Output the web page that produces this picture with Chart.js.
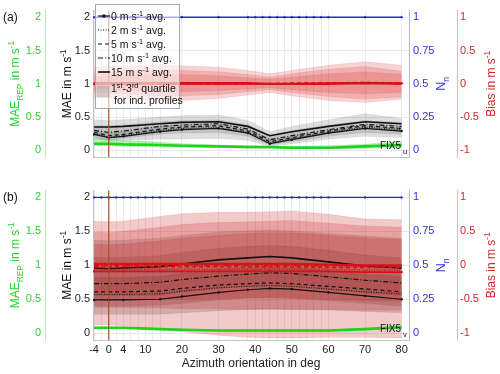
<!DOCTYPE html>
<html>
<head>
<meta charset="utf-8">
<script src="https://cdn.jsdelivr.net/npm/chart.js@4.4.1/dist/chart.umd.min.js"></script>
<style>
  html, body { margin: 0; padding: 0; background: #fff; }
  #wrap { position: relative; width: 500px; height: 374px; }
  #wrap canvas { position: absolute; left: 0; }
</style>
</head>
<body>
<div id="wrap">
  <canvas id="chartA" width="500" height="180" style="top:0"></canvas>
  <canvas id="chartB" width="500" height="194" style="top:180px"></canvas>
</div>
<script>
// azimuth positions of the profiles (grid lines / N_n markers)
const GRID_AZ   = [-4, -2, 0, 2, 4, 6, 8, 10, 12, 14, 20, 30, 38, 40, 42, 44, 46, 48, 50, 52, 54, 56, 58, 60, 70, 80];
const NN_VALUES = [1, 1, 1, 1, 1, 1, 1, 1, 1, 1, 1, 1, 1, 1, 1, 1, 1, 1, 1, 1, 1, 1, 1, 1, 1, 1];
const AZ        = [-4, 0, 4, 14, 20, 30, 38, 44, 50, 60, 70, 80];
const X_LABELS  = [-4, 0, 4, 10, 20, 30, 40, 50, 60, 70, 80];
const ZERO_AZ   = 0;

const MAE_TICKS  = [0, 0.5, 1, 1.5, 2];
const NN_TICKS   = [0, 0.25, 0.5, 0.75, 1];
const BIAS_TICKS = [-1, -0.5, 0, 0.5, 1];

// ---- panel (a): u component ----
const A_MAE_0  = [0.24, 0.19, 0.21, 0.28, 0.31, 0.33, 0.26, 0.10, 0.16, 0.26, 0.33, 0.29];
const A_MAE_2  = [0.25, 0.20, 0.22, 0.30, 0.33, 0.34, 0.27, 0.11, 0.17, 0.27, 0.35, 0.31];
const A_MAE_5  = [0.27, 0.22, 0.24, 0.32, 0.35, 0.37, 0.29, 0.13, 0.19, 0.29, 0.37, 0.33];
const A_MAE_10 = [0.30, 0.27, 0.29, 0.36, 0.38, 0.40, 0.32, 0.16, 0.22, 0.31, 0.39, 0.36];
const A_MAE_15 = [0.35, 0.35, 0.36, 0.40, 0.42, 0.43, 0.36, 0.22, 0.28, 0.36, 0.43, 0.40];

const A_GRAY1_HI = [0.46, 0.45, 0.46, 0.50, 0.52, 0.53, 0.45, 0.28, 0.36, 0.46, 0.55, 0.48];
const A_GRAY1_LO = [0.25, 0.22, 0.24, 0.30, 0.32, 0.33, 0.26, 0.12, 0.17, 0.26, 0.33, 0.29];
const A_GRAY2_HI = [0.37, 0.37, 0.38, 0.43, 0.45, 0.46, 0.38, 0.23, 0.30, 0.38, 0.45, 0.42];
const A_GRAY2_LO = [0.20, 0.16, 0.18, 0.24, 0.26, 0.27, 0.21, 0.08, 0.13, 0.21, 0.27, 0.24];
const A_GRAY3_HI = [0.30, 0.26, 0.28, 0.35, 0.37, 0.39, 0.31, 0.15, 0.21, 0.30, 0.37, 0.34];
const A_GRAY3_LO = [0.18, 0.14, 0.15, 0.17, 0.17, 0.18, 0.15, 0.06, 0.10, 0.17, 0.21, 0.19];

const A_BIAS_0  = [0.00, 0.00, 0.00, 0.00, 0.00, 0.00, 0.00, 0.00, 0.00, 0.01, 0.01, 0.01];
const A_BIAS_5  = [-0.01, -0.01, -0.01, 0.00, 0.00, 0.00, 0.00, 0.00, 0.01, 0.01, 0.02, 0.01];
const A_BIAS_15 = [0.01, 0.01, 0.01, 0.01, 0.01, 0.01, 0.01, 0.00, 0.00, 0.00, 0.01, 0.00];

const A_RED1_HI = [0.24, 0.26, 0.27, 0.28, 0.27, 0.25, 0.20, 0.15, 0.20, 0.28, 0.33, 0.28];
const A_RED1_LO = [-0.20, -0.21, -0.22, -0.24, -0.25, -0.22, -0.17, -0.13, -0.18, -0.25, -0.28, -0.23];
const A_RED2_HI = [0.16, 0.18, 0.19, 0.21, 0.20, 0.18, 0.14, 0.10, 0.15, 0.22, 0.26, 0.19];
const A_RED2_LO = [-0.12, -0.14, -0.15, -0.18, -0.18, -0.16, -0.12, -0.09, -0.13, -0.19, -0.23, -0.20];
const A_RED3_HI = [0.10, 0.11, 0.12, 0.14, 0.14, 0.12, 0.09, 0.07, 0.10, 0.15, 0.18, 0.14];
const A_RED3_LO = [-0.08, -0.09, -0.10, -0.12, -0.12, -0.10, -0.08, -0.06, -0.09, -0.13, -0.15, -0.13];

const A_REP    = [0.10, 0.10, 0.09, 0.08, 0.07, 0.06, 0.05, 0.05, 0.04, 0.04, 0.06, 0.08];
const A_REP_HI = [0.18, 0.17, 0.15, 0.12, 0.10, 0.08, 0.07, 0.06, 0.06, 0.07, 0.09, 0.13];
const A_REP_LO = [0.07, 0.07, 0.06, 0.05, 0.05, 0.04, 0.03, 0.03, 0.02, 0.02, 0.03, 0.05];

// ---- panel (b): v component ----
const B_MAE_0  = [0.49, 0.49, 0.49, 0.50, 0.54, 0.60, 0.64, 0.66, 0.65, 0.60, 0.55, 0.50];
const B_MAE_2  = [0.57, 0.57, 0.57, 0.58, 0.62, 0.67, 0.69, 0.70, 0.69, 0.65, 0.61, 0.58];
const B_MAE_5  = [0.61, 0.61, 0.61, 0.62, 0.66, 0.71, 0.73, 0.74, 0.73, 0.69, 0.65, 0.61];
const B_MAE_10 = [0.73, 0.73, 0.73, 0.75, 0.79, 0.84, 0.87, 0.89, 0.88, 0.83, 0.78, 0.74];
const B_MAE_15 = [0.96, 0.95, 0.96, 0.98, 1.02, 1.08, 1.11, 1.13, 1.11, 1.05, 0.99, 0.96];

const B_GRAY1_HI = [1.37, 1.36, 1.37, 1.40, 1.44, 1.49, 1.51, 1.52, 1.51, 1.47, 1.43, 1.40];
const B_GRAY1_LO = [0.55, 0.55, 0.55, 0.56, 0.60, 0.66, 0.69, 0.70, 0.69, 0.64, 0.59, 0.55];
const B_GRAY2_HI = [1.12, 1.11, 1.12, 1.14, 1.19, 1.25, 1.28, 1.29, 1.28, 1.22, 1.15, 1.11];
const B_GRAY2_LO = [0.40, 0.40, 0.40, 0.41, 0.44, 0.49, 0.52, 0.53, 0.52, 0.48, 0.44, 0.40];
const B_GRAY3_HI = [0.82, 0.82, 0.82, 0.84, 0.88, 0.94, 0.97, 0.98, 0.97, 0.92, 0.87, 0.83];
const B_GRAY3_LO = [0.28, 0.28, 0.28, 0.28, 0.30, 0.33, 0.35, 0.36, 0.35, 0.34, 0.32, 0.30];

const B_BIAS_0  = [-0.09, -0.09, -0.09, -0.09, -0.09, -0.09, -0.09, -0.09, -0.09, -0.09, -0.10, -0.10];
const B_BIAS_2  = [-0.06, -0.06, -0.06, -0.06, -0.06, -0.06, -0.06, -0.06, -0.06, -0.06, -0.07, -0.07];
const B_BIAS_5  = [-0.02, -0.02, -0.02, -0.02, -0.02, -0.02, -0.02, -0.02, -0.02, -0.03, -0.03, -0.03];
const B_BIAS_10 = [0.00, 0.00, 0.00, 0.00, 0.00, 0.00, 0.00, 0.00, 0.00, 0.00, -0.01, -0.01];
const B_BIAS_15 = [0.02, 0.02, 0.02, 0.02, 0.02, 0.02, 0.02, 0.02, 0.02, 0.01, 0.00, 0.00];

const B_RED1_HI = [0.65, 0.64, 0.65, 0.72, 0.76, 0.78, 0.78, 0.79, 0.80, 0.75, 0.68, 0.67];
const B_RED1_LO = [-0.88, -0.88, -0.89, -0.94, -0.98, -1.03, -1.06, -1.07, -1.07, -1.06, -1.06, -1.07];
const B_RED2_HI = [0.49, 0.48, 0.50, 0.56, 0.60, 0.63, 0.64, 0.65, 0.66, 0.62, 0.58, 0.56];
const B_RED2_LO = [-0.62, -0.62, -0.62, -0.63, -0.64, -0.64, -0.65, -0.65, -0.65, -0.65, -0.66, -0.66];
const B_RED3_HI = [0.31, 0.30, 0.31, 0.36, 0.40, 0.44, 0.47, 0.48, 0.48, 0.44, 0.40, 0.38];
const B_RED3_LO = [-0.50, -0.50, -0.50, -0.50, -0.50, -0.49, -0.48, -0.48, -0.49, -0.50, -0.52, -0.53];

const B_REP    = [0.08, 0.08, 0.08, 0.06, 0.05, 0.04, 0.04, 0.04, 0.04, 0.04, 0.06, 0.09];
const B_REP_HI = [0.09, 0.09, 0.09, 0.07, 0.06, 0.05, 0.05, 0.05, 0.05, 0.05, 0.07, 0.10];
const B_REP_LO = [0.07, 0.07, 0.07, 0.05, 0.04, 0.03, 0.03, 0.03, 0.03, 0.03, 0.05, 0.08];

const FONT  = "'Liberation Sans', Arial, Helvetica, sans-serif";
const GREEN = '#2ed22e';
const BLUE  = '#3333cc';
const RED   = '#cc2a2a';

// line styles per wind speed
const STYLES = {
  s0:  { dash: [],           width: 1.2, dots: true },
  s2:  { dash: [1, 1.5],     width: 1.1, dots: false },
  s5:  { dash: [4, 3],       width: 1.2, dots: false },
  s10: { dash: [5, 2, 1, 2], width: 1.2, dots: false },
  s15: { dash: [],           width: 1.6, dots: false }
};

Chart.defaults.font.family = FONT;
Chart.defaults.font.size = 11;
Chart.defaults.color = '#222';

function pts(xs, ys) {
  return xs.map((x, i) => ({ x, y: ys[i] }));
}

function band(list, lo, hi, color, axis, order) {
  list.push({ data: pts(AZ, hi), yAxisID: axis, fill: '+1', backgroundColor: color,
              borderColor: color, borderWidth: 0.5, pointRadius: 0, order });
  list.push({ data: pts(AZ, lo), yAxisID: axis, fill: false,
              borderColor: color, borderWidth: 0.5, pointRadius: 0, order });
}

function curve(list, ys, color, style, axis, order, extraWidth = 0) {
  const st = STYLES[style];
  list.push({ data: pts(AZ, ys), yAxisID: axis, fill: false, borderColor: color,
              borderWidth: st.width + extraWidth, borderDash: st.dash,
              pointRadius: st.dots ? 1.2 : 0, pointBackgroundColor: color,
              pointBorderWidth: 0, order });
}

function fixedTicks(values) {
  return s => { s.ticks = values.map(v => ({ value: v })); };
}

function scalesFor(showX) {
  const fmt = v => String(v);
  return {
    x: {
      type: 'linear', min: -4.3, max: 82,
      afterBuildTicks: fixedTicks(GRID_AZ),
      afterFit: s => { s.height = showX ? 34 : 23; },
      grid: { color: '#ececec', drawTicks: false },
      border: { color: '#c4c4c4' },
      ticks: { display: showX, autoSkip: false, maxRotation: 0, padding: 3, color: '#222',
               callback: v => X_LABELS.includes(v) ? String(v) : '' },
      title: { display: showX, text: 'Azimuth orientation in deg', color: '#222',
               font: { size: 12 }, padding: { top: 0, bottom: 3 } }
    },
    y: {
      position: 'left', min: -0.1, max: 2.1,
      afterBuildTicks: fixedTicks(MAE_TICKS),
      afterFit: s => { s.width = 48; },
      grid: { color: '#e8e8e8', drawTicks: false },
      border: { color: '#c4c4c4' },
      ticks: { padding: 3, color: '#222', callback: fmt }
    },
    yR: {
      position: 'left', min: -0.1, max: 2.1,
      afterBuildTicks: fixedTicks(MAE_TICKS),
      afterFit: s => { s.width = 45; },
      grid: { display: false, drawTicks: false },
      border: { color: '#b4ecb4' },
      ticks: { padding: 4, color: GREEN, callback: fmt }
    },
    yN: {
      position: 'right', min: -0.05, max: 1.05,
      afterBuildTicks: fixedTicks(NN_TICKS),
      afterFit: s => { s.width = 48; },
      grid: { display: false, drawTicks: false },
      border: { color: '#b4b4ee' },
      ticks: { padding: 4, color: BLUE, callback: fmt }
    },
    yB: {
      position: 'right', min: -1.1, max: 1.1,
      afterBuildTicks: fixedTicks(BIAS_TICKS),
      afterFit: s => { s.width = 43; },
      grid: { display: false, drawTicks: false },
      border: { color: '#eeb4b4' },
      ticks: { padding: 3, color: RED, callback: fmt }
    }
  };
}

function richWidth(ctx, parts, size) {
  let w = 0;
  parts.forEach(([t, m]) => {
    ctx.font = (m ? size * 0.7 : size) + 'px ' + FONT;
    w += ctx.measureText(t).width;
  });
  return w;
}

function drawRich(ctx, parts, x, y, size) {
  parts.forEach(([t, m]) => {
    ctx.font = (m ? size * 0.7 : size) + 'px ' + FONT;
    const dy = m === 1 ? -size * 0.4 : m === -1 ? size * 0.28 : 0;
    ctx.fillText(t, x, y + dy);
    x += ctx.measureText(t).width;
  });
}

function drawVertical(ctx, parts, cx, cy, size, color) {
  ctx.save();
  ctx.translate(cx, cy);
  ctx.rotate(-Math.PI / 2);
  ctx.fillStyle = color;
  ctx.textAlign = 'left';
  ctx.textBaseline = 'alphabetic';
  const w = richWidth(ctx, parts, size);
  drawRich(ctx, parts, -w / 2, size * 0.35, size);
  ctx.restore();
}

const LEGEND_ROWS = [
  { style: 's0',  parts: [['0 m s', 0], ['-1', 1], [' avg.', 0]] },
  { style: 's2',  parts: [['2 m s', 0], ['-1', 1], [' avg.', 0]] },
  { style: 's5',  parts: [['5 m s', 0], ['-1', 1], [' avg.', 0]] },
  { style: 's10', parts: [['10 m s', 0], ['-1', 1], [' avg.', 0]] },
  { style: 's15', parts: [['15 m s', 0], ['-1', 1], [' avg.', 0]] }
];

function drawLegend(ctx) {
  const left = 95, top = 4, right = 179, bottom = 108;
  ctx.save();
  ctx.fillStyle = 'rgba(255,255,255,0.6)';
  ctx.fillRect(left, top, right - left, bottom - top);
  ctx.strokeStyle = '#a8a8a8';
  ctx.lineWidth = 1;
  ctx.strokeRect(left + 0.5, top + 0.5, right - left, bottom - top);

  ctx.fillStyle = '#111';
  ctx.textAlign = 'left';
  ctx.textBaseline = 'alphabetic';
  LEGEND_ROWS.forEach((row, i) => {
    const y = 16 + i * 14;
    const st = STYLES[row.style];
    ctx.strokeStyle = '#111';
    ctx.lineWidth = st.width;
    ctx.setLineDash(st.dash);
    ctx.beginPath();
    ctx.moveTo(98, y);
    ctx.lineTo(110, y);
    ctx.stroke();
    ctx.setLineDash([]);
    if (st.dots) {
      ctx.fillStyle = '#111';
      ctx.fillRect(102.5, y - 1.5, 3, 3);
    }
    ctx.fillStyle = '#111';
    drawRich(ctx, row.parts, 111, y + 4, 10.5);
  });

  // quartile patch
  ctx.fillStyle = 'rgba(0,0,0,0.15)';
  ctx.fillRect(97, 86, 12, 11);
  ctx.strokeStyle = '#bbbbbb';
  ctx.lineWidth = 0.6;
  ctx.strokeRect(97, 86, 12, 11);
  ctx.fillStyle = '#111';
  drawRich(ctx, [['1', 0], ['st', 1], ['-3', 0], ['rd', 1], [' quartile', 0]], 111, 92, 10.5);
  drawRich(ctx, [['for ind. profiles', 0]], 114, 104, 10.5);
  ctx.restore();
}

const decor = {
  id: 'decor',
  afterDatasetsDraw(chart, args, opts) {
    const { ctx, chartArea: ca, scales } = chart;
    const x0 = scales.x.getPixelForValue(ZERO_AZ);
    ctx.save();
    ctx.strokeStyle = '#a0522d';
    ctx.lineWidth = 1.2;
    ctx.beginPath();
    ctx.moveTo(x0, ca.top);
    ctx.lineTo(x0, ca.bottom);
    ctx.stroke();

    ctx.fillStyle = '#111';
    ctx.textBaseline = 'alphabetic';
    ctx.textAlign = 'right';
    ctx.font = '10px ' + FONT;
    ctx.fillText('FIX5', ca.right - 8, ca.bottom - 8);
    ctx.textAlign = 'left';
    ctx.font = '7.5px ' + FONT;
    ctx.fillText(opts.sub, ca.right - 6, ca.bottom - 3);
    ctx.restore();
  },
  afterDraw(chart, args, opts) {
    const { ctx, chartArea: ca, scales } = chart;
    const cy = (ca.top + ca.bottom) / 2;
    drawVertical(ctx, [['MAE', 0], ['REP', -1], [' in m s', 0], ['-1', 1]], scales.yR.left + 15, cy, 12, GREEN);
    drawVertical(ctx, [['MAE in m s', 0], ['-1', 1]], scales.y.left + 22, cy, 12, '#111');
    drawVertical(ctx, [['N', 0], ['n', -1]], scales.yN.left + 32, cy, 12.5, BLUE);
    drawVertical(ctx, [['Bias in m s', 0], ['-1', 1]], scales.yB.left + 34, cy, 12, RED);

    ctx.save();
    ctx.fillStyle = '#111';
    ctx.textAlign = 'left';
    ctx.textBaseline = 'alphabetic';
    ctx.font = '12px ' + FONT;
    ctx.fillText(opts.letter, 3, ca.top + 10);
    ctx.restore();

    if (opts.legend) drawLegend(ctx);
  }
};

function buildDatasets(p) {
  const ds = [];
  p.gray.forEach(([lo, hi]) => band(ds, lo, hi, p.grayFill, 'y', 12));
  p.red.forEach(([lo, hi]) => band(ds, lo, hi, p.redFill, 'yB', 11));
  band(ds, p.repLo, p.repHi, 'rgba(40,210,40,0.35)', 'yR', 10);
  p.mae.forEach(([ys, style]) => curve(ds, ys, '#111', style, 'y', 4));
  p.bias.forEach(([ys, style]) => curve(ds, ys, '#d41414', style, 'yB', 3, 0.6));
  ds.push({ data: pts(AZ, p.rep), yAxisID: 'yR', fill: false, borderColor: '#1ed21e',
            borderWidth: 2.6, pointRadius: 0, order: 2 });
  ds.push({ data: pts(GRID_AZ, NN_VALUES), yAxisID: 'yN', fill: false, borderColor: '#2a2ad6',
            borderWidth: 1.4, pointRadius: 1.4, pointStyle: 'rect',
            pointBackgroundColor: '#2020c0', pointBorderWidth: 0, order: 1 });
  return ds;
}

function makeChart(id, p, showX, padTop, decorOpts) {
  return new Chart(document.getElementById(id), {
    type: 'line',
    data: { datasets: buildDatasets(p) },
    options: {
      responsive: false,
      animation: false,
      events: [],
      layout: { padding: { top: padTop, left: 0, right: 0, bottom: 0 } },
      elements: { line: { tension: 0 } },
      scales: scalesFor(showX),
      plugins: {
        legend: { display: false },
        tooltip: { enabled: false },
        decor: decorOpts
      }
    },
    plugins: [decor]
  });
}

makeChart('chartA', {
  gray: [[A_GRAY1_LO, A_GRAY1_HI], [A_GRAY2_LO, A_GRAY2_HI], [A_GRAY3_LO, A_GRAY3_HI]],
  red:  [[A_RED1_LO, A_RED1_HI], [A_RED2_LO, A_RED2_HI], [A_RED3_LO, A_RED3_HI]],
  mae:  [[A_MAE_0, 's0'], [A_MAE_2, 's2'], [A_MAE_5, 's5'], [A_MAE_10, 's10'], [A_MAE_15, 's15']],
  bias: [[A_BIAS_0, 's0'], [A_BIAS_5, 's5'], [A_BIAS_15, 's15']],
  rep: A_REP, repLo: A_REP_LO, repHi: A_REP_HI,
  grayFill: 'rgba(0,0,0,0.13)', redFill: 'rgba(215,35,35,0.2)'
}, false, 5, { letter: '(a)', sub: 'u', legend: true });

makeChart('chartB', {
  gray: [[B_GRAY1_LO, B_GRAY1_HI], [B_GRAY2_LO, B_GRAY2_HI], [B_GRAY3_LO, B_GRAY3_HI]],
  red:  [[B_RED1_LO, B_RED1_HI], [B_RED2_LO, B_RED2_HI], [B_RED3_LO, B_RED3_HI]],
  mae:  [[B_MAE_0, 's0'], [B_MAE_2, 's2'], [B_MAE_5, 's5'], [B_MAE_10, 's10'], [B_MAE_15, 's15']],
  bias: [[B_BIAS_0, 's0'], [B_BIAS_2, 's2'], [B_BIAS_5, 's5'], [B_BIAS_10, 's10'], [B_BIAS_15, 's15']],
  rep: B_REP, repLo: B_REP_LO, repHi: B_REP_HI,
  grayFill: 'rgba(0,0,0,0.17)', redFill: 'rgba(200,35,35,0.24)'
}, true, 7, { letter: '(b)', sub: 'v', legend: false });
</script>
</body>
</html>
